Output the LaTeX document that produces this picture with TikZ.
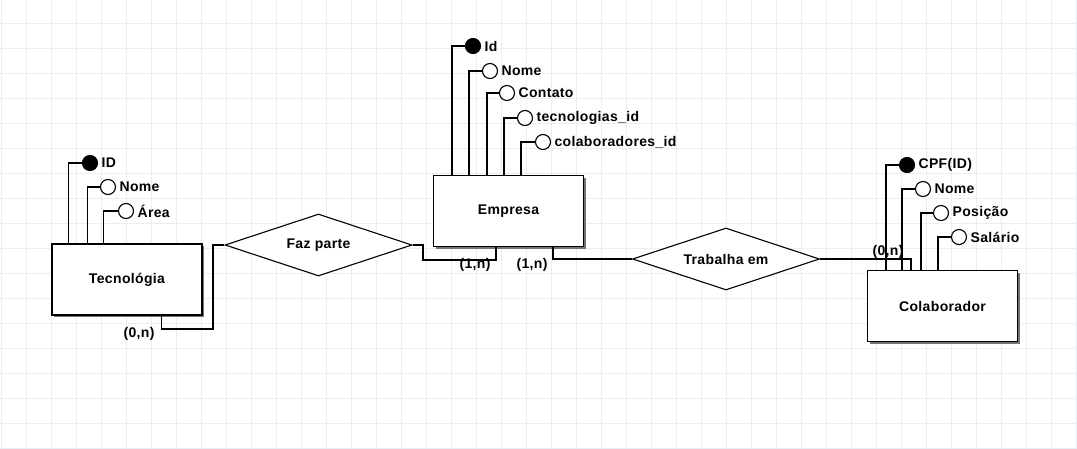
\documentclass[tikz,border=0pt]{standalone}
\usepackage{fontspec}
\setmainfont[LetterSpace=2.5]{Liberation Sans}
\usetikzlibrary{shapes.geometric,shadows}
\definecolor{gridc}{HTML}{E6EEF6}
\begin{document}
\begin{tikzpicture}[x=1pt,y=-1pt,
  every node/.style={font=\fontsize{14}{16}\selectfont\bfseries},
  entity/.style={draw=black,line width=1.2pt,fill=white,minimum width=150pt,minimum height=71pt,inner sep=0pt,
     drop shadow={shadow xshift=2pt,shadow yshift=-2pt,fill=black!55,opacity=1}},
  rel/.style={diamond,aspect=3,draw=black,line width=1.1pt,fill=white,minimum width=187pt,minimum height=62pt,inner sep=0pt},
  attr/.style={circle,draw=black,line width=1.1pt,fill=white,minimum size=15pt,inner sep=0pt,label distance=3pt},
  keyattr/.style={attr,fill=black},
  conn/.style={line width=1.2pt,draw=black},
  card/.style={inner sep=0pt}
]
\useasboundingbox (0,0) rectangle (1077,448);
\fill[white] (0,0) rectangle (1077,448);
\foreach \gx in {1.5,26.5,...,1077} \draw[gridc,line width=1pt] (\gx,0) -- (\gx,448);
\foreach \gy in {23,48,...,448} \draw[gridc,line width=1pt] (0,\gy) -- (1077,\gy);

% entities
\node[entity] (tec) at (127,279.5) {Tecnológia};
\node[entity] (emp) at (508.5,211) {Empresa};
\node[entity] (col) at (942.5,306) {Colaborador};

% relationships
\node[rel] (fp) at (318.5,245) {Faz parte};
\node[rel] (tr) at (726,259) {Trabalha em};

% Tecnologia attributes
\node[keyattr,label={0:ID}] (t1) at (90,163) {};
\node[attr,label={0:Nome}] (t2) at (108,187) {};
\node[attr,label={0:Área}] (t3) at (126,211) {};
\draw[conn] (t1.west) -| ([xshift=17pt]tec.north west);
\draw[conn] (t2.west) -| ([xshift=36pt]tec.north west);
\draw[conn] (t3.west) -| ([xshift=52pt]tec.north west);

% Empresa attributes
\node[keyattr,label={0:Id}] (e1) at (473,46) {};
\node[attr,label={0:Nome}] (e2) at (490,71) {};
\node[attr,label={0:Contato}] (e3) at (507,93) {};
\node[attr,label={0:tecnologias\_id}] (e4) at (525,118) {};
\node[attr,label={0:colaboradores\_id}] (e5) at (543,142) {};
\draw[conn] (e1.west) -| ([xshift=19pt]emp.north west);
\draw[conn] (e2.west) -| ([xshift=36pt]emp.north west);
\draw[conn] (e3.west) -| ([xshift=54pt]emp.north west);
\draw[conn] (e4.west) -| ([xshift=71pt]emp.north west);
\draw[conn] (e5.west) -| ([xshift=88pt]emp.north west);

% Colaborador attributes
\node[keyattr,label={0:CPF(ID)}] (c1) at (907,165) {};
\node[attr,label={0:Nome}] (c2) at (923,189) {};
\node[attr,label={0:Posição}] (c3) at (941,213) {};
\node[attr,label={0:Salário}] (c4) at (959,237) {};
\draw[conn] (c1.west) -| ([xshift=19pt]col.north west);
\draw[conn] (c2.west) -| ([xshift=35pt]col.north west);
\draw[conn] (c3.west) -| ([xshift=54pt]col.north west);
\draw[conn] (c4.west) -| ([xshift=71pt]col.north west);

% relationship connectors
\coordinate (k1) at (213,329);
\coordinate (k2) at (423,260);
\draw[conn] ([xshift=110pt]tec.south west) |- (k1) |- (fp.west);
\draw[conn] (fp.east) -| (k2) -| ([xshift=63pt]emp.south west);
\draw[conn] ([xshift=120pt]emp.south west) |- (tr.west);
\draw[conn] (tr.east) -| ([xshift=44pt]col.north west);

% cardinalities
\node[card] (n1) at (139,334) {(0,n)};
\node[card] (n2) at (475,265) {(1,n)};
\node[card] (n3) at (532,265) {(1,n)};
\node[card] (n4) at (888,252) {(0,n)};
\end{tikzpicture}
\end{document}
